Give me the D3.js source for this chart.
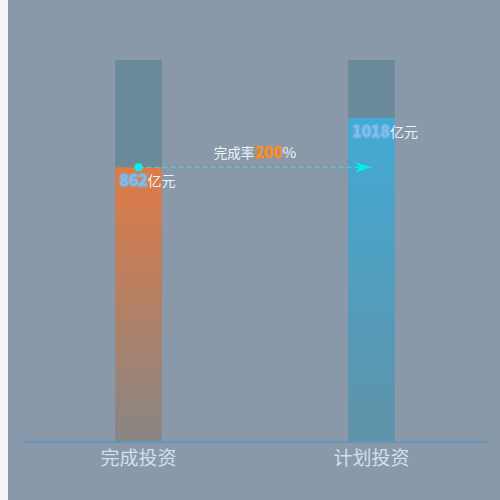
<!DOCTYPE html>
<html>
<head>
<meta charset="utf-8">
<script src="https://cdn.jsdelivr.net/npm/d3@7"></script>
<style>
  html, body { margin: 0; padding: 0; background: #f3f4f9; }
  svg { display: block; font-family: "Noto Sans CJK SC", "Noto Sans", sans-serif; }
</style>
</head>
<body>
<svg id="chart" width="500" height="500"></svg>
<script>
// Chart data
const categories = ["完成投资", "计划投资"];
const values = [862, 1018];
const maxValue = 1200;
const unit = "亿元";
const rateLabel = "完成率";
const rateValue = 200;
const barColors = ["#e07a45", "#42aad5"];

const width = 500, height = 500;
const margin = { top: 60, right: 12, bottom: 59, left: 22 };

const svg = d3.select("#chart");

// Page background (light strip on the left, grey-blue panel)
svg.append("rect")
  .attr("x", 8).attr("y", 0)
  .attr("width", width - 8).attr("height", height)
  .attr("fill", "#8999a9");

const x = d3.scaleBand()
  .domain(categories)
  .range([margin.left, width - margin.right]);

const y = d3.scaleLinear()
  .domain([0, maxValue])
  .range([height - margin.bottom, margin.top]);

const barW = x.bandwidth() * 0.2;

// Gradients for the bars + soft glow for numbers
const defs = svg.append("defs");
barColors.forEach((c, i) => {
  const g = defs.append("linearGradient")
    .attr("id", "grad" + i)
    .attr("x1", 0).attr("y1", 0).attr("x2", 0).attr("y2", 1);
  g.append("stop").attr("offset", "0%").attr("stop-color", c).attr("stop-opacity", 1);
  g.append("stop").attr("offset", "100%").attr("stop-color", c).attr("stop-opacity", 0.25);
});
const glow = defs.append("filter").attr("id", "glow")
  .attr("x", "-20%").attr("y", "-30%").attr("width", "140%").attr("height", "160%");
glow.append("feGaussianBlur").attr("in", "SourceGraphic").attr("stdDeviation", 0.8).attr("result", "b");
const fm = glow.append("feMerge");
fm.append("feMergeNode").attr("in", "b");
fm.append("feMergeNode").attr("in", "SourceGraphic");

// Background bars
svg.selectAll(".bg-bar")
  .data(categories)
  .join("rect")
  .attr("class", "bg-bar")
  .attr("x", d => x(d) + (x.bandwidth() - barW) / 2)
  .attr("y", y(maxValue))
  .attr("width", barW)
  .attr("height", y(0) - y(maxValue))
  .attr("fill", "#6a8a99");

// Value bars
svg.selectAll(".bar")
  .data(values)
  .join("rect")
  .attr("class", "bar")
  .attr("x", (d, i) => x(categories[i]) + (x.bandwidth() - barW) / 2)
  .attr("y", d => y(d))
  .attr("width", barW)
  .attr("height", d => y(0) - y(d))
  .attr("fill", (d, i) => `url(#grad${i})`);

// Value labels
const labels = svg.selectAll(".val-label")
  .data(values)
  .join("text")
  .attr("class", "val-label")
  .attr("x", (d, i) => x(categories[i]) + (x.bandwidth() - barW) / 2 + 4)
  .attr("y", d => y(d) + 19);
labels.append("tspan")
  .attr("font-size", 16)
  .attr("font-weight", "bold")
  .attr("fill", "#84c2f2")
  .attr("stroke", "#78b6e8")
  .attr("stroke-width", 0.8)
  .attr("filter", "url(#glow)")
  .text(d => d);
labels.append("tspan")
  .attr("font-size", 14)
  .attr("fill", "#eef2fa")
  .text(unit);

// Arrow marker
defs.append("marker")
  .attr("id", "arrow")
  .attr("viewBox", "0 0 16 10")
  .attr("refX", 16).attr("refY", 5)
  .attr("markerWidth", 16).attr("markerHeight", 10)
  .attr("markerUnits", "userSpaceOnUse")
  .attr("orient", "auto")
  .append("path")
  .attr("d", "M0,0 L16,5 L0,10 L4,5 Z")
  .attr("fill", "#00f0f0");

// Dashed connector from completed value to plan bar
const cx0 = x(categories[0]) + x.bandwidth() / 2;
const cx1 = x(categories[1]) + x.bandwidth() / 2;
svg.append("line")
  .attr("x1", cx0).attr("y1", y(values[0]))
  .attr("x2", cx1).attr("y2", y(values[0]))
  .attr("stroke", "#2fe6ee")
  .attr("stroke-opacity", 0.85)
  .attr("stroke-width", 1)
  .attr("stroke-dasharray", "5,3")
  .attr("marker-end", "url(#arrow)");

svg.append("circle")
  .attr("cx", cx0).attr("cy", y(values[0]))
  .attr("r", 4)
  .attr("fill", "#00f6f6");

// Completion rate label
const rate = svg.append("text")
  .attr("x", (cx0 + cx1) / 2)
  .attr("y", y(values[0]) - 9)
  .attr("text-anchor", "middle");
rate.append("tspan").attr("font-size", 13.5).attr("fill", "#eef2fa").text(rateLabel);
rate.append("tspan").attr("font-size", 16).attr("font-weight", "bold")
  .attr("fill", "#ff8a1e").attr("stroke", "#ff8a1e").attr("stroke-width", 0.6)
  .text(rateValue);
rate.append("tspan").attr("font-size", 15).attr("fill", "#eef2fa").text("%");

// X axis
const xAxis = svg.append("g")
  .attr("transform", `translate(0,${y(0) + 0.5})`)
  .call(d3.axisBottom(x).tickSize(0).tickPadding(10));
xAxis.select(".domain").attr("stroke", "#3f8fd6");
xAxis.selectAll("text")
  .attr("font-size", 19)
  .attr("fill", "#d3def2")
  .attr("font-family", "\"Noto Sans CJK SC\", sans-serif");
</script>
</body>
</html>
